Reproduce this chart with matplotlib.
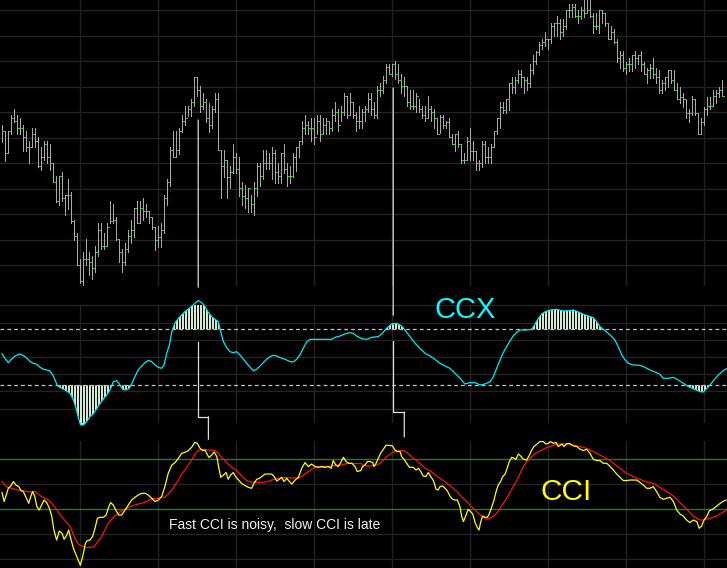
import numpy as np
import matplotlib
matplotlib.use('Agg')
import matplotlib.pyplot as plt
from matplotlib.patches import ConnectionPatch
from matplotlib.path import Path

plt.rcParams['font.family'] = ['Liberation Sans', 'DejaVu Sans']

# ---------------- price bars (one per bar index) ----------------
high = [175, 169, 169, 185, 191, 185, 182, 175, 169, 159.3,
        172, 172, 162.7, 153.3, 159.3, 159.3, 156, 136.7, 124, 124,
        128, 104.7, 121, 108, 80, 66.7, 40.7, 47.7, 61, 47.7,
        44.3, 54, 76.7, 76.7, 66.7, 76.7, 99, 95.7, 83, 60.7,
        51, 57, 70, 80, 92.3, 99, 99, 102.3, 96, 88.7,
        83.3, 73.3, 74, 77.3, 105, 121, 153, 169.3, 169.3, 172,
        185, 194, 194, 201, 222.7, 222.7, 214, 206.7, 201, 197.3,
        194, 206.7, 206.7, 150, 150, 140, 134, 156, 146.7, 142.7,
        117.7, 115, 111.7, 105, 117.7, 137, 137, 150, 150, 146.7,
        152.7, 150, 136.7, 146.7, 156, 136.7, 134, 146.7, 152.7, 159,
        179, 185, 179, 182, 182, 185, 185, 182, 182, 179,
        190.7, 198, 190.7, 194, 207.3, 204, 207.3, 198, 188, 194,
        190.7, 194, 207.3, 207.3, 198, 214, 216.7, 224, 235.7, 235.7,
        235.7, 239, 235.7, 225.7, 223.3, 214, 210, 210, 206.7, 200.7,
        194, 194, 204, 194, 190.7, 181.7, 185, 185, 179.3, 182,
        165.7, 165.7, 169, 156, 146.7, 162.7, 172, 159, 149.3, 140,
        159, 159, 152.7, 156, 169, 181.7, 198, 198, 201, 216.7,
        222.7, 222.7, 230, 230, 222.7, 222.7, 236, 245, 249, 258,
        261.3, 267.7, 261.3, 277, 277, 284, 280.7, 280.7, 290, 296,
        296, 296, 290, 293.3, 302, 302, 302, 286.7, 286.7, 290,
        290, 286.7, 276.7, 274, 270.7, 260.7, 249, 249, 238.3, 241.7,
        245, 249, 245, 249, 238.3, 232.3, 235.7, 241.7, 232.3, 230,
        220, 222.7, 230, 230, 230, 216.7, 213.3, 206.7, 200.7, 190.7,
        204, 200.7, 187.3, 181.7, 193.3, 203.3, 203.3, 210, 210, 213.3,
        220]
low = [158.3, 139.3, 146.7, 165.7, 178.3, 165.7, 165.7, 149.3, 149.3, 136.7,
       152.7, 152.7, 133.3, 130.3, 139.7, 136.7, 130.3, 117.7, 98.3, 95.3,
       98.7, 85.3, 91.3, 76.7, 60, 34.7, 16.7, 15.3, 34.7, 25.3,
       21.3, 28.3, 44.3, 50.7, 50.7, 54, 76.7, 76.7, 60, 37.7,
       28.3, 34.7, 47.7, 56.7, 63.3, 76.7, 76.7, 80, 82.7, 76.7,
       70.7, 50, 53, 53.3, 66.7, 95.3, 114.3, 142.7, 142.7, 146.3,
       168.3, 174.7, 184.3, 184.3, 194, 204, 187.7, 191, 178.3, 168.3,
       171.7, 187.7, 150, 101.7, 123.3, 101.7, 111.7, 127.3, 127.3, 104.3,
       95, 91.7, 88.3, 88.3, 85, 104.3, 114.3, 120.7, 130.7, 130.7,
       120.7, 117.3, 117.3, 117.3, 127.3, 114.3, 117.3, 123.3, 129.3, 142.7,
       155.7, 165.7, 165.7, 159, 155.7, 165.7, 159, 165.7, 165.7, 165.7,
       169, 179, 169, 179, 185, 182, 185, 182, 169, 171.7,
       171.7, 179, 188, 185, 182, 182, 204, 207.3, 216.7, 225.7,
       224, 220.7, 216.7, 207.3, 204, 194, 190.7, 190.7, 188, 188,
       181.7, 179, 181.7, 179, 171.7, 165.7, 167.3, 171.7, 171.7, 162.7,
       156, 149.3, 152.7, 136.7, 136.7, 140, 140, 140, 130, 130,
       133.3, 136.7, 136.7, 136.7, 152.7, 165.7, 171.7, 187.3, 187.3, 190.3,
       206.7, 206.7, 216.7, 213.3, 206.7, 210, 213.3, 225.7, 235.7, 245,
       251.3, 254.3, 251.3, 257.3, 264.3, 264.3, 260.7, 264.3, 270.7, 283.3,
       283.3, 283.3, 276.7, 280.7, 283.3, 286.7, 283.3, 267.3, 270.7, 267.3,
       276.7, 274, 260.7, 260.7, 257.3, 238.3, 231.7, 229, 225.7, 229,
       229, 232.3, 235.7, 229, 225.7, 216.7, 222.3, 222.3, 216.7, 206.7,
       206.7, 210, 213.3, 216.7, 210, 200.7, 197.3, 193.3, 181.7, 178.3,
       185, 185, 165.7, 165.7, 175, 185, 190.7, 194, 197.3, 203.3,
       204]
close = [168.7, 146.7, 168.7, 181.7, 178.7, 171.7, 171.7, 162.7, 152.7, 152.7,
         166, 159.3, 134, 142.7, 156, 142.7, 136.7, 117.7, 98.7, 124,
         101.7, 104.7, 104.7, 79.3, 64, 34.7, 18.7, 40.7, 40.7, 37.7,
         31.7, 47.7, 69.7, 54, 54, 73, 79.3, 80, 60.7, 47.7,
         37.7, 50.7, 64.3, 69.7, 91.7, 76.7, 92, 89, 88.7, 82.7,
         73.3, 60, 63, 70, 101.7, 117.7, 150, 142.7, 150, 169,
         178.7, 181.7, 191, 197.7, 222.7, 210, 194, 197.7, 181.7, 174.7,
         191, 200.7, 150, 134, 140, 123.3, 127.7, 142.7, 130.7, 111.7,
         104.3, 101.7, 111.7, 95.7, 111.7, 133.7, 124, 136.7, 136.7, 136.7,
         146.7, 127.7, 124, 146.7, 130.7, 124, 124, 142.7, 152.7, 159,
         171.7, 174.7, 171.7, 171.7, 162.7, 179, 165.7, 174.7, 179, 171.7,
         185, 188, 174.7, 188, 204, 185, 198, 185, 179, 179,
         188, 190.7, 201, 190.7, 185, 210, 210, 220, 233.3, 225.7,
         235.7, 225.7, 220, 214, 214, 198, 194, 194, 204, 190.7,
         185, 181.7, 190.7, 188, 181.7, 165.7, 182.7, 175, 178.3, 162.7,
         156, 165.7, 156, 140, 140, 159, 149.3, 149.3, 136.7, 136.7,
         156, 143, 143, 152.7, 169, 181.7, 193.3, 190.3, 201, 216.7,
         213.3, 219.7, 225.7, 222.7, 219.7, 216.7, 230, 239, 248.3, 255,
         258, 260.7, 260.7, 274, 276.7, 276.7, 267.7, 274, 290, 290,
         292.7, 284, 284, 290, 286.7, 290, 284, 274, 274, 290,
         286.7, 276.7, 260.7, 267.7, 258, 241.7, 245, 232.3, 235.7, 235.7,
         245, 241.7, 245, 235.7, 225.7, 230, 232.3, 225.7, 222.7, 210,
         216.7, 222.7, 230, 219.7, 210, 200.7, 203.3, 200.7, 187.3, 187.3,
         200.7, 187.3, 165.7, 178.3, 190.7, 194, 194, 204, 206.7, 210,
         204]

# ---------------- CCX (bar position, value) ----------------
ccx = [(0, 6), (1, -1.8), (2.1, -9.5), (3.2, -3), (4.3, 2.4), (6, 6), (7.7, 1.2),
       (9.3, -7.1), (10.4, -10.7), (11.6, -12.5), (12.7, -17.9), (13.8, -21.4),
       (14.9, -22.6), (16, -24.4), (16.9, -31.5), (17.7, -40.5), (18.4, -50),
       (19.3, -53.6), (21, -58.3), (22.7, -64.3), (23.8, -76.2), (24.7, -91.1),
       (25.6, -110.7), (26.2, -120.8), (27.1, -120.8), (28.2, -114.9), (29.3, -106),
       (30.4, -101.2), (31.6, -91.1), (32.7, -82.1), (33.8, -74.4), (34.9, -67.3),
       (36, -58.3), (37.1, -43.5), (38.2, -41.7), (39.1, -47.6), (40.2, -57.1),
       (41.3, -58.3), (42.4, -55.4), (43.2, -47.6), (44.3, -34.5), (45.4, -22.6),
       (46.6, -15.5), (47.7, -9.5), (48.8, -5.4), (49.9, -7.7), (51, -13.7),
       (52.1, -17.9), (53.2, -19.6), (54, -13.7), (54.9, 7.1), (55.8, 22),
       (56.6, 45.8), (57.7, 61.9), (59.3, 72.6), (61, 81.5), (62.7, 88.7),
       (64.3, 96.4), (65.4, 101.2), (66.6, 97.6), (67.7, 90.5), (68.8, 79.8),
       (69.9, 72.6), (71, 67.9), (72.1, 63.7), (72.9, 45.8), (73.8, 28),
       (74.9, 17.3), (76, 10.1), (77.1, 8.3), (78.2, 10.1), (79.3, 4.2),
       (80.4, -3), (81.6, -10.7), (82.7, -17.9), (83.8, -23.8), (84.9, -21.4),
       (86, -15.5), (87.1, -9.5), (88.2, -3.6), (89.3, 1.2), (90.4, 3.6),
       (91.6, 2.4), (92.7, -0.6), (93.8, -2.4), (94.9, -4.8), (96, -7.7),
       (97.1, -8.3), (98.2, -3.6), (99.3, 4.2), (100.4, 16.1), (101.6, 28),
       (102.7, 32.1), (106, 32.1), (109.9, 32.1), (111, 35.7), (112.7, 38.1),
       (114.3, 41.7), (116, 44), (117.1, 42.9), (118.2, 38.1), (119.9, 33.3),
       (121.6, 32.1), (123.2, 35.7), (125.4, 36.9), (126.6, 41.7), (128.2, 51.8),
       (129.9, 59.5), (131.6, 60.7), (133.2, 56), (134.3, 48.8), (136, 36.9),
       (137.7, 25), (139.3, 16.1), (141, 7.1), (142.7, 2.4), (144.3, -3.6),
       (146, -10.7), (147.7, -15.5), (149.3, -19.6), (151, -28.6), (152.7, -37.5),
       (154.3, -47.6), (156, -45.2), (157.7, -45.2), (159.3, -49.4), (161, -47.6),
       (162.7, -43.5), (163.8, -34.5), (164.9, -19.6), (166, -4.8), (167.1, 8.3),
       (168.2, 19), (169.3, 29.2), (170.4, 38.1), (171.6, 44.6), (172.7, 48.8),
       (174.9, 48.8), (176.6, 50), (177.7, 59.5), (178.8, 69.6), (179.9, 77.4),
       (181, 81), (182.7, 84.5), (184.9, 85.7), (187.1, 82.7), (188.8, 83.3),
       (190.4, 84.5), (192.1, 81), (193.8, 76.8), (195.4, 73.8), (197.1, 70.8),
       (198.2, 63.7), (199.3, 54.8), (201, 47.6), (202.7, 39.9), (204.3, 31),
       (205.4, 19), (206.6, 4.2), (207.7, -4.8), (208.8, -10.7), (210.4, -13.7),
       (212.7, -14.3), (214.3, -17.9), (216, -22.6), (217.7, -26.2), (219.3, -30.4),
       (220.4, -37.5), (222.1, -37.5), (223.8, -35.7), (225.4, -40.5), (227.1, -46.4),
       (228.8, -52.4), (230.4, -56), (232.7, -61.3), (233.8, -61.9), (234.9, -55.4),
       (236, -49.4), (237.1, -41.7), (238.8, -31.5), (240.4, -23.8), (241.6, -20.2)]
ccx_levels = [50, -50]

# ---------------- CCI fast (yellow) and slow (red) ----------------
cci_fast = [(0, -33), (0.7, -69), (1.3, -47), (2.1, -16), (2.9, -7), (3.8, 11), (4.7, -4),
            (5.6, -9), (6.3, -25), (7.1, -29), (8, -52), (8.9, -76), (9.6, -49), (10.2, -29),
            (10.9, -47), (11.6, -89), (12.4, -103), (13.2, -83), (14, -63), (14.9, -73),
            (15.8, -96), (16.6, -129), (17.3, -183), (18.2, -223), (19.1, -187), (20, -196),
            (20.7, -220), (21.6, -203), (22.2, -183), (22.9, -216), (23.8, -256), (24.7, -283),
            (25.6, -309), (26.1, -324), (26.9, -289), (27.8, -236), (28.4, -225), (29.3, -223),
            (30.2, -209), (31, -176), (31.8, -136), (32.7, -132), (33.8, -132), (34.7, -123),
            (35.4, -96), (36.2, -73), (37.1, -83), (38, -105), (38.9, -123), (39.9, -123),
            (41, -103), (42.1, -83), (43.2, -63), (44.3, -52), (45.4, -43), (46.6, -36),
            (47.7, -36), (48.8, -43), (49.9, -56), (51, -69), (52.1, -63), (53.2, -49),
            (54.3, -9), (55.4, 44), (56.6, 77), (57.7, 87), (58.8, 104), (59.9, 124),
            (61, 128), (62.1, 135), (63.2, 148), (64.3, 168), (65.1, 164), (66, 144),
            (66.9, 135), (67.7, 137), (68.2, 124), (69, 107), (69.9, 117), (70.7, 129),
            (71.6, 111), (72.2, 71), (72.9, 28), (73.8, 37), (74.7, 47), (75.4, 20),
            (76.2, 37), (77.1, 47), (78, 28), (78.9, 17), (79.8, 4), (81, -5), (82.1, -12),
            (83.2, -16), (84, 4), (84.9, 20), (85.8, 24), (86.6, 31), (87.7, 41), (88.8, 41),
            (89.9, 41), (90.7, 31), (91.6, 13), (92.4, 20), (93.2, 28), (94, 11), (94.9, 24),
            (95.8, 11), (96.6, 1), (97.7, 17), (98.8, 28), (99.9, 64), (101, 87), (102.1, 71),
            (103.2, 81), (104.3, 71), (105.4, 68), (106.6, 71), (107.7, 68), (108.8, 71),
            (109.7, 64), (110.4, 95), (111.3, 77), (112.1, 71), (112.9, 87), (113.8, 108),
            (114.7, 91), (115.6, 84), (116.6, 84), (117.7, 71), (118.4, 51), (119.6, 55),
            (120.2, 71), (121, 77), (121.8, 91), (122.7, 91), (123.6, 87), (124, 71),
            (124.7, 84), (125.4, 104), (126.2, 124), (127.1, 140), (128, 156), (129.1, 156),
            (130.2, 153), (131, 137), (131.8, 131), (132.7, 131), (133.2, 111), (134, 100),
            (134.9, 84), (135.8, 68), (137.1, 68), (138, 57), (138.8, 64), (139.6, 51),
            (140.4, 33), (141.3, 31), (142.1, 47), (142.9, 31), (143.8, 15), (144.7, -20),
            (145.4, -23), (146, -9), (146.9, -7), (147.7, -16), (148.4, -25), (149.3, -47),
            (150.2, -60), (151, -63), (151.8, -63), (152.7, -92), (153.2, -127), (153.8, -149),
            (154.7, -123), (155.4, -100), (156.2, -109), (156.9, -119), (157.7, -153),
            (158.4, -172), (159, -183), (159.6, -149), (160.2, -127), (161, -132), (161.8, -132),
            (162.4, -119), (163.2, -92), (164, -63), (164.7, -29), (165.4, -3), (166.2, 11),
            (166.9, 31), (167.7, 41), (168.2, 57), (169.1, 91), (169.9, 108), (170.7, 104),
            (171.3, 100), (172.1, 121), (172.9, 113), (173.8, 100), (174.9, 97), (175.8, 117),
            (176.6, 137), (177.3, 151), (178.2, 160), (179.3, 171), (180.4, 171), (181.3, 161),
            (182.1, 164), (182.9, 171), (183.8, 164), (184.7, 167), (185.4, 151), (186.6, 161),
            (187.3, 151), (188.2, 161), (189.1, 164), (189.9, 157), (190.7, 153), (191.6, 151),
            (192.7, 140), (193.8, 135), (194.9, 140), (196, 124), (197.1, 100), (198.2, 95),
            (199.3, 95), (200.4, 84), (201.6, 84), (202.7, 71), (203.8, 57), (204.9, 41),
            (206, 28), (207.1, 15), (208.2, 15), (209.3, 17), (210.4, 17), (211.6, 17),
            (212.7, 7), (213.8, -3), (214.9, -16), (216, -16), (217.1, -9), (218.2, -29),
            (219.3, -52), (220.4, -60), (221.6, -56), (222.7, -52), (223.8, -69), (224.9, -103),
            (226, -119), (227.1, -127), (228.2, -143), (229.3, -153), (230.4, -143),
            (231.6, -149), (232.4, -176), (233.2, -167), (234, -143), (234.9, -129),
            (235.8, -105), (236.9, -100), (238, -89), (239.1, -79), (240.2, -69), (241.3, -63)]
cci_slow = [(0, 11), (1, -3), (2.1, -13), (3.2, -16), (4.3, -20), (5.4, -23), (6.6, -25),
            (7.7, -27), (8.8, -29), (9.9, -31), (11, -29), (12.1, -39), (13.2, -49), (14.3, -56),
            (15.4, -63), (16.6, -76), (17.7, -92), (18.8, -112), (19.9, -129), (21, -145),
            (22.1, -159), (23.2, -183), (24.3, -216), (25.4, -239), (26.6, -247), (27.7, -252),
            (28.8, -252), (29.9, -252), (31, -247), (32.1, -225), (33.2, -209), (34.3, -183),
            (35.4, -156), (36.6, -140), (37.7, -125), (38.8, -116), (39.9, -105), (41, -100),
            (42.1, -93), (43.2, -87), (44.3, -83), (45.4, -79), (46.6, -76), (47.7, -71),
            (48.8, -65), (49.9, -59), (51, -56), (52.1, -56), (53.2, -52), (54.3, -52),
            (55.4, -39), (56.6, -23), (57.7, -3), (58.8, 17), (59.9, 41), (61, 57), (62.1, 77),
            (63.2, 97), (64.3, 120), (65.4, 135), (66.6, 139), (67.7, 139), (69.3, 137),
            (71, 135), (72.1, 124), (73.2, 108), (74.3, 95), (75.4, 81), (76.6, 68), (77.7, 60),
            (78.8, 47), (79.9, 33), (81, 20), (82.1, 12), (83.2, 9), (84.3, 8), (85.4, 8),
            (86.6, 8), (87.7, 9), (88.8, 12), (89.9, 17), (91, 20), (92.1, 23), (93.2, 25),
            (94.3, 27), (95.4, 27), (96.6, 25), (97.7, 25), (98.8, 24), (99.9, 31), (101, 41),
            (102.1, 51), (103.2, 60), (104.3, 68), (105.4, 71), (106.6, 68), (107.7, 71),
            (108.8, 71), (109.9, 73), (111, 76), (112.1, 77), (113.2, 77), (114.3, 81),
            (115.4, 84), (116.6, 84), (117.7, 83), (118.8, 83), (119.9, 82), (120.4, 77),
            (121.6, 73), (122.7, 73), (123.8, 76), (124.9, 77), (126, 84), (127.1, 95),
            (128.2, 111), (129.3, 120), (130.4, 128), (131.6, 133), (132.7, 135), (133.8, 135),
            (134.9, 127), (136, 117), (137.1, 104), (138.2, 95), (139.3, 84), (140.4, 71),
            (141.6, 60), (142.7, 55), (143.8, 44), (144.9, 33), (146, 24), (147.1, 15),
            (148.2, 4), (149.3, -4), (150.4, -16), (151.6, -29), (152.7, -43), (153.8, -56),
            (154.9, -69), (156, -83), (157.1, -96), (158.2, -109), (159.3, -121), (160.4, -132),
            (161.6, -140), (162.7, -136), (163.8, -127), (164.9, -116), (166, -96), (167.1, -76),
            (168.2, -56), (169.3, -33), (170.4, -9), (171.6, 15), (172.7, 44), (173.8, 71),
            (174.9, 91), (176, 104), (177.1, 117), (178.2, 127), (179.3, 133), (180.4, 140),
            (181.6, 147), (182.7, 151), (183.8, 156), (184.9, 160), (186, 161), (188.2, 163),
            (190.4, 157), (192.7, 151), (194.9, 144), (197.1, 131), (199.3, 117), (201.6, 103),
            (203.8, 84), (206, 64), (208.2, 44), (210.4, 31), (212.7, 20), (214.9, 9),
            (217.1, 4), (219.3, -12), (221.6, -29), (223.8, -47), (226, -73), (228.2, -100),
            (230.4, -127), (232.7, -143), (233.8, -143), (236, -136), (238.2, -127),
            (240.4, -111), (241.6, -103)]
cci_levels_green = [100, -100]
cci_levels_gray = [0, -200, -300]

# ---------------- grid / annotation settings ----------------
price_grid = [34.7, 60.2, 85.7, 111.2, 136.7, 162.2, 187.7, 213.2, 238.7, 264.2, 289.7]
ccx_grid = [-92, -61, -30.5, 0, 31, 62, 93.4]
bar_grid = list(range(26, 241, 26))
ann_x = [65.4, 130.4]
ann_price = [180.0, 212.0]
ann_ccx_stop = [125.0, 75.0]
ann_ccx_resume = [28.0, 29.0]
ann_ccx_step = [-106.0, -98.0]
ann_step_x = [68.8, 134.1]
ann_cci_end = [180.0, 189.0]

# ---------------- figure ----------------
W, H = 727.0, 568.0
fig = plt.figure(figsize=(W / 100, H / 100), dpi=100, facecolor='black')

def rect(top, bottom):
    return [0, (H - bottom) / H, 1, (bottom - top) / H]

ax_p = fig.add_axes(rect(0, 286))
ax_x = fig.add_axes(rect(305, 423))
ax_c = fig.add_axes(rect(441, 568))

GRID = '#232323'
XLIM = (-2 / 3, 725 / 3)
for ax in (ax_p, ax_x, ax_c):
    ax.set_facecolor('black')
    ax.set_xlim(*XLIM)
    for s in ax.spines.values():
        s.set_visible(False)
    ax.set_xticks([])
    ax.set_yticks([])
    for b in bar_grid:
        ax.axvline(b, color=GRID, lw=1.0, zorder=0)

ax_p.set_ylim(14, 300)
ax_x.set_ylim(-117.3, 93.4)
ax_c.set_ylim(-334.8, 173.2)

for g in price_grid:
    ax_p.axhline(g, color=GRID, lw=1.0, zorder=0)
for g in ccx_grid:
    ax_x.axhline(g, color=GRID, lw=1.0, zorder=0, clip_on=False)
for g in cci_levels_gray:
    ax_c.axhline(g, color=GRID, lw=1.0, zorder=0)
for g in cci_levels_green:
    ax_c.axhline(g, color='#1c801c', lw=1.0, zorder=1)

# price bars
idx = np.arange(len(high))
ax_p.vlines(idx, low, high, color='#a9a9a9', lw=0.72, zorder=2, clip_on=False,
            antialiased=False)
ax_p.hlines(close, idx + 0.2, idx + 0.5, color='#20d020', lw=0.72, zorder=3,
            antialiased=False)

# CCX
cx = np.array([p[0] for p in ccx])
cv = np.array([p[1] for p in ccx])
FILL = '#d2e9d2'
pc1 = ax_x.fill_between(cx, ccx_levels[0], cv, where=cv >= ccx_levels[0], interpolate=True,
                        color=FILL, lw=0, zorder=2)
pc2 = ax_x.fill_between(cx, ccx_levels[1], cv, where=cv <= ccx_levels[1], interpolate=True,
                        color=FILL, lw=0, zorder=2, clip_on=False)
paths = list(pc1.get_paths()) + list(pc2.get_paths())
clip = Path.make_compound_path(*paths)
stripes = ax_x.vlines(idx + 0.5, -140, 110, color='black', lw=0.6, zorder=3,
                      antialiased=False)
stripes.set_clip_path(clip, transform=ax_x.transData)
for lv in ccx_levels:
    ax_x.axhline(lv, color='#c4c4c4', lw=0.9, ls=(0, (3, 2.5)), zorder=4)
ax_x.plot(cx, cv, color='#00ecf4', lw=0.9, zorder=5, clip_on=False)

# CCI
fx = [p[0] for p in cci_fast]
fv = [p[1] for p in cci_fast]
sx = [p[0] for p in cci_slow]
sv = [p[1] for p in cci_slow]
ax_c.plot(sx, sv, color='#ff1010', lw=0.9, zorder=4, clip_on=False)
ax_c.plot(fx, fv, color='#ffff00', lw=0.9, zorder=5, clip_on=False)

# connector lines
LC = '#dcdcdc'
for k in range(len(ann_x)):
    x0 = ann_x[k]
    c1 = ConnectionPatch(xyA=(x0, ann_price[k]), coordsA=ax_p.transData,
                         xyB=(x0, ann_ccx_stop[k]), coordsB=ax_x.transData,
                         color=LC, lw=0.9, zorder=10)
    fig.add_artist(c1)
    ax_x.plot([x0, x0, ann_step_x[k]], [ann_ccx_resume[k], ann_ccx_step[k], ann_ccx_step[k]],
              color=LC, lw=0.9, zorder=10, clip_on=False)
    c2 = ConnectionPatch(xyA=(ann_step_x[k], ann_ccx_step[k]), coordsA=ax_x.transData,
                         xyB=(ann_step_x[k], ann_cci_end[k]), coordsB=ax_c.transData,
                         color=LC, lw=0.9, zorder=10)
    fig.add_artist(c2)

# labels
ax_x.text(144.0, 69.6, 'CCX', color='#00ffff', fontsize=21, ha='left', va='baseline', zorder=6)
ax_c.text(179.5, -62.8, 'CCI', color='#ffff00', fontsize=21.5, ha='left', va='baseline', zorder=6)
ax_c.text(55.8, -180, 'Fast CCI is noisy,  slow CCI is late', color='#f2f2f2', fontsize=10,
          ha='left', va='baseline', zorder=6)

fig.savefig('out.png', dpi=100, facecolor='black')
